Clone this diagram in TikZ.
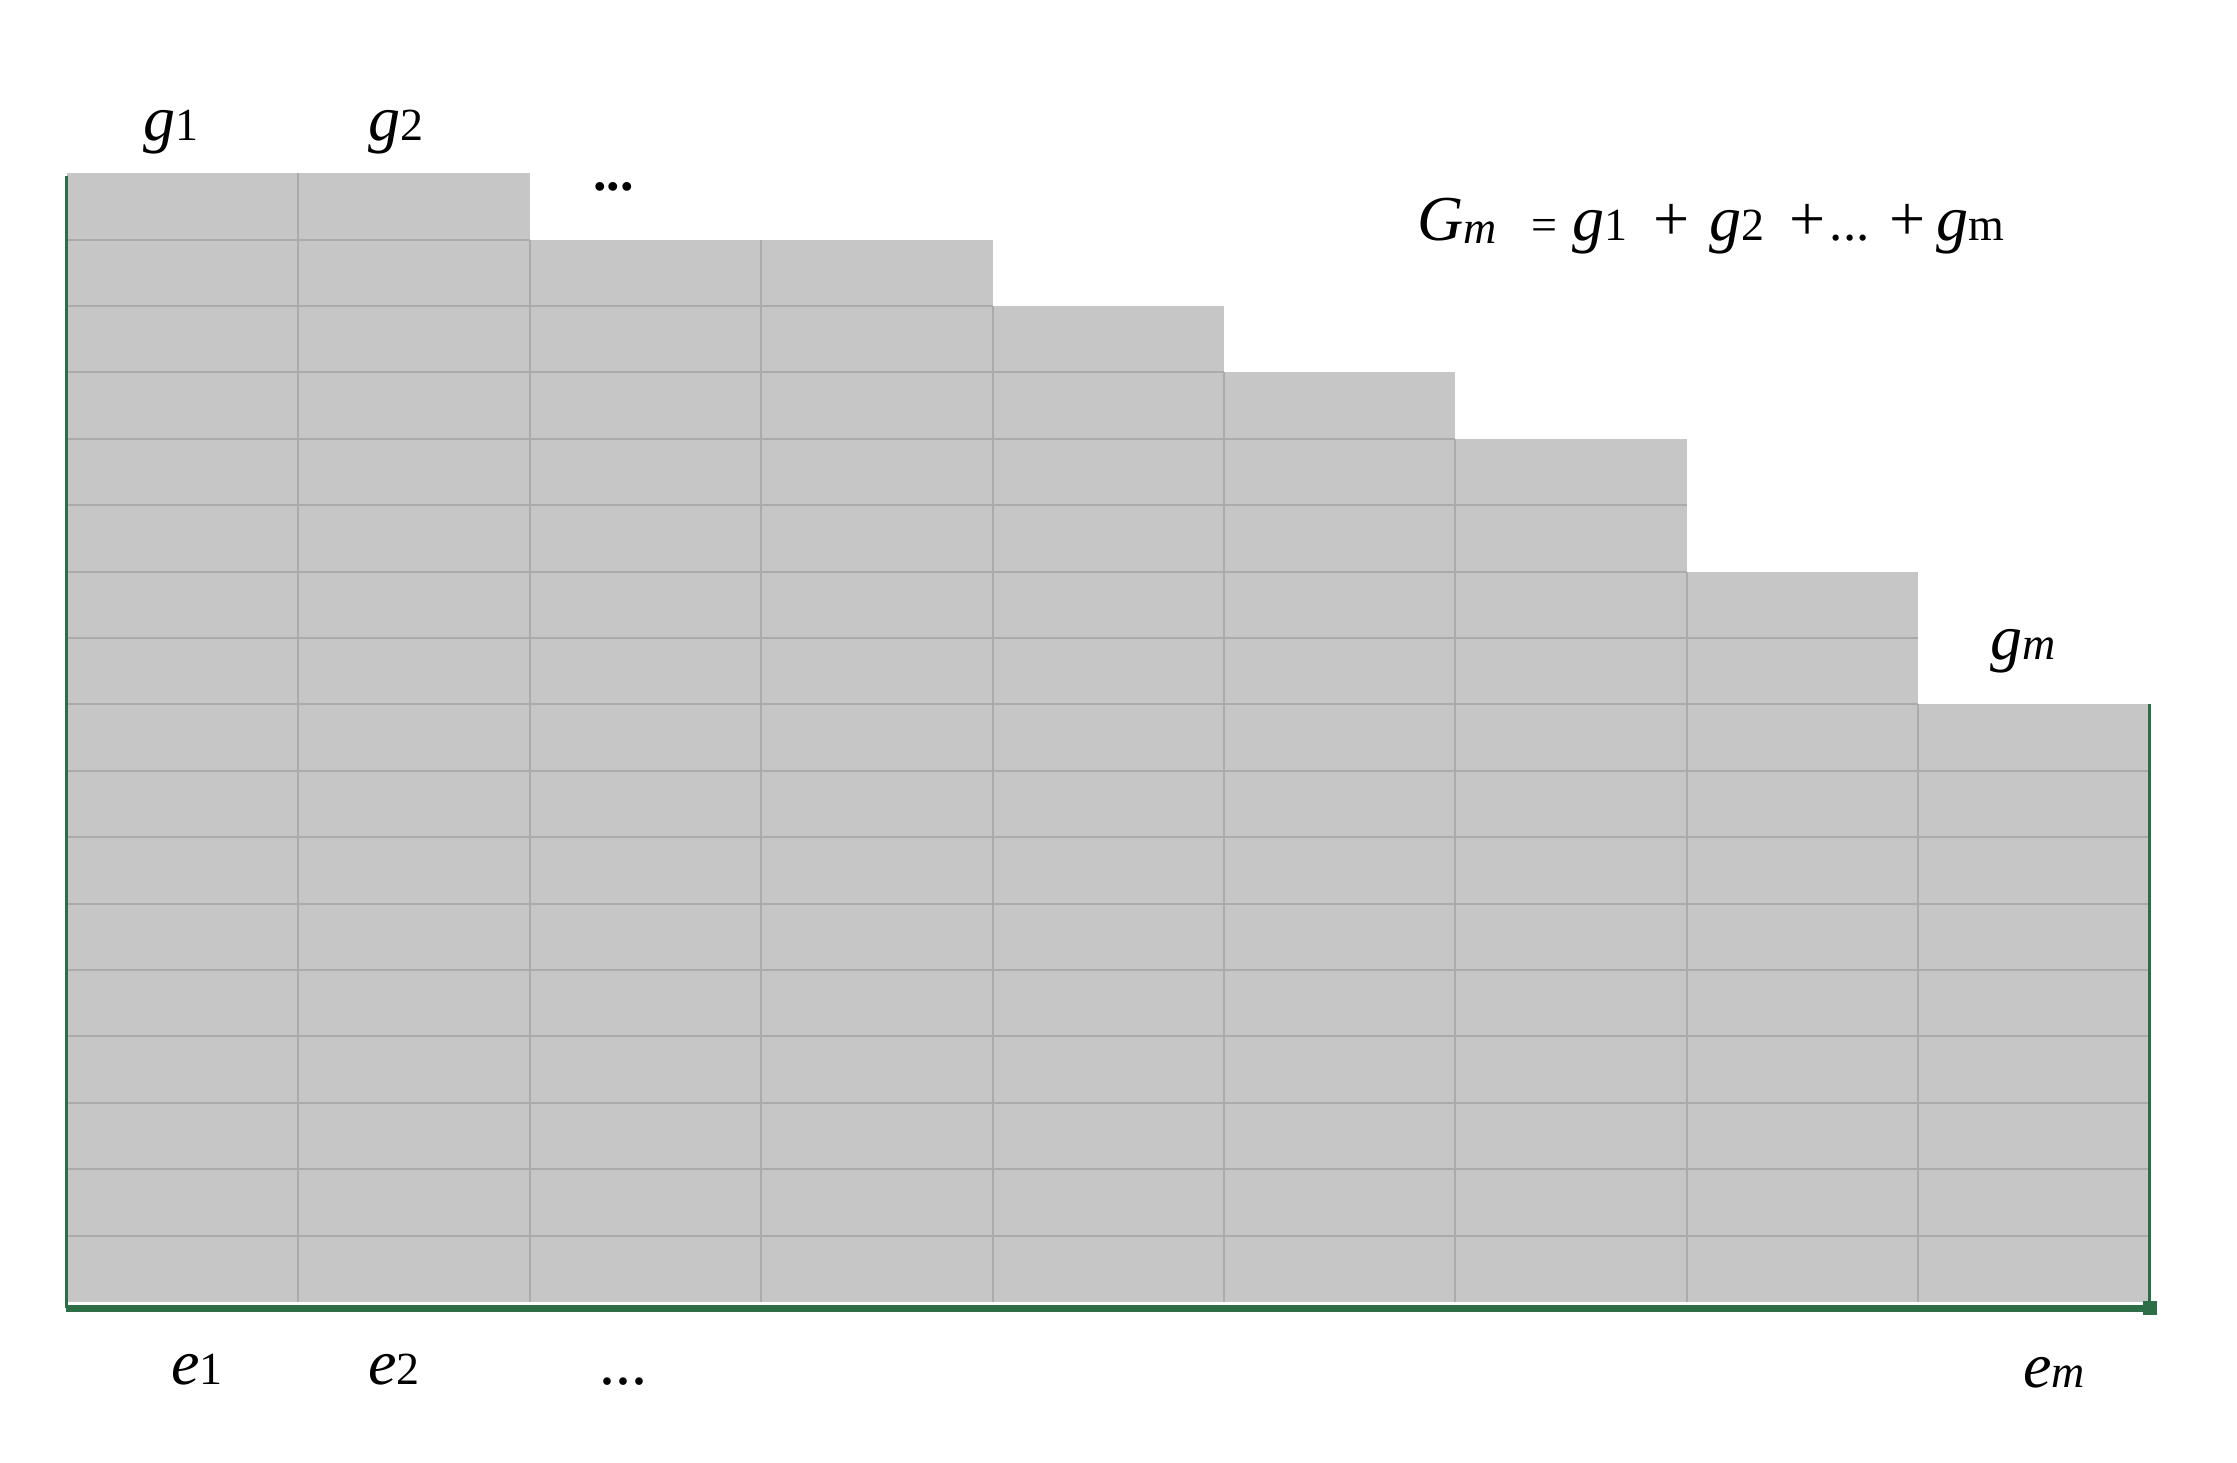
\documentclass[tikz,border=0pt]{standalone}
\usepackage{fontspec}
\setmainfont{Liberation Serif}
\definecolor{cellfill}{HTML}{C6C6C6}
\definecolor{gridgrey}{HTML}{ABABAB}
\definecolor{xlgreen}{HTML}{2E6E47}
\newcommand{\bigfnt}{\fontsize{64}{70}\selectfont}
\newcommand{\smlfnt}{\fontsize{46}{50}\selectfont}
\begin{document}
\begin{tikzpicture}[x=1pt,y=-1pt,
  cell/.style={fill=cellfill,draw=none},
  gridln/.style={draw=gridgrey,line width=2pt},
  selln/.style={draw=xlgreen,line width=3pt},
  lbl/.style={inner sep=0pt,anchor=base west,font=\bigfnt}]
\useasboundingbox (0,0) rectangle (2237,1462);
\def\rh{66.4}
\def\cw{231.4}
\def\xo{67}
\def\yb{1302}
% cells
\foreach \h [count=\c from 0] in {17,17,16,16,15,14,13,11,9} {
  \fill[cell] (\xo+\c*\cw, \yb-\h*\rh) rectangle (\xo+\c*\cw+\cw, \yb);
  \ifnum\h>1
    \foreach \k in {1,...,\numexpr\h-1\relax} {
      \draw[gridln] (\xo+\c*\cw, \yb-\k*\rh) -- (\xo+\c*\cw+\cw, \yb-\k*\rh);
    }
  \fi
  \ifnum\c>0
    \draw[gridln] (\xo+\c*\cw, \yb) -- (\xo+\c*\cw, \yb-\h*\rh);
  \fi
}
% selection border
\coordinate (tl) at (\xo-1, 175.5);
\coordinate (bl) at (\xo-1, 1308);
\coordinate (br) at (\xo+9*\cw, 1308);
\coordinate (tr) at (\xo+9*\cw, \yb-9*\rh);
\draw[selln] (tl) -- (bl);
\draw[draw=xlgreen,line width=7pt] (bl) -- (br);
\draw[selln] (tr) -- (br);
\fill[xlgreen] ([xshift=-7pt,yshift=7pt]br) rectangle ([xshift=7pt,yshift=-7pt]br);
% labels
\node[lbl] (g1) at (143,140) {\textit{g}{\smlfnt 1}};
\node[lbl] (g2) at (368,140) {\textit{g}{\smlfnt 2}};
\node[lbl,font=\fontsize{54}{58}\selectfont] (tdots) at (593,190) {\textbf{...}};
\node[lbl] (eq) at (1417,240) {\textit{G}{\smlfnt\raisebox{-3pt}{\textit{m}}}\hspace{35pt}{\smlfnt=}\hspace{15pt}\textit{g}{\smlfnt 1}\hspace{26pt}+\hspace{20pt}\textit{g}{\smlfnt 2}\hspace{25pt}+\hspace{4pt}{\fontsize{53}{56}\selectfont...}\hspace{20pt}+\hspace{11pt}\textit{g}{\smlfnt m}};
\node[lbl] (gm) at (1990,659) {\textit{g}{\smlfnt\textit{m}}};
\node[lbl] (e1) at (171,1384) {\textit{e}{\smlfnt 1}};
\node[lbl] (e2) at (368,1384) {\textit{e}{\smlfnt 2}};
\node[lbl] (bdots) at (599,1384) {...};
\node[lbl] (em) at (2023,1387) {\textit{e}{\smlfnt\textit{m}}};
\end{tikzpicture}
\end{document}
